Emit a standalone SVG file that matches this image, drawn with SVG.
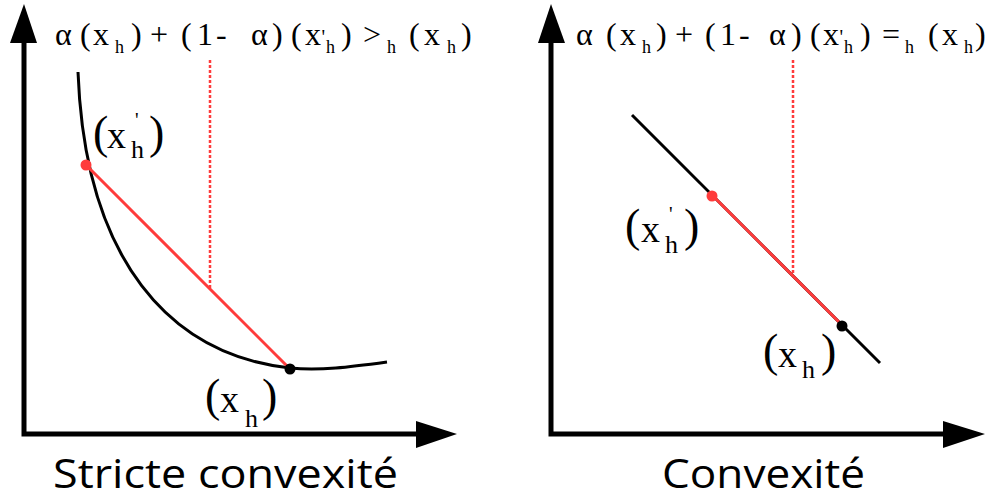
<svg xmlns="http://www.w3.org/2000/svg" width="986" height="500" viewBox="0 0 986 500">
<style>
.ax{stroke:#000;stroke-width:5;fill:none}
.ah{fill:#000}
.blk{stroke:#000;stroke-width:3;fill:none}
.red{stroke:#FF3B3B;stroke-width:3;fill:none}
.dot{stroke:#FF3B3B;stroke-width:2.5;stroke-dasharray:3 2;fill:none}
.f{font-family:"Liberation Serif","DejaVu Serif",serif;fill:#000}
.m{font-size:32px}
.s{font-size:18px}
.p{font-size:20px}
.lm{font-size:38px}
.lp{font-size:46px}
.ls{font-size:26px}
.title{font-family:"Open Sans","Liberation Sans",sans-serif;font-size:41px;fill:#000}
</style>
<rect width="986" height="500" fill="#fff"/>

<g id="left-axes">
<path class="ax" d="M24 40 V434 H418"/>
<polygon class="ah" points="24,4 10,43 37,43"/>
<polygon class="ah" points="457,434 416,421 416,448"/>
</g>
<g id="right-axes">
<path class="ax" d="M551 40 V434 H945"/>
<polygon class="ah" points="551,4 538,43 565,43"/>
<polygon class="ah" points="985,434 943,421 943,448"/>
</g>

<g id="left-plot">
<path class="blk" d="M78 72 C85 260 170 355 290 368 C320 371 350 367 387 362"/>
<line class="dot" x1="210" y1="60" x2="210" y2="289"/>
<line class="red" x1="86" y1="165" x2="290" y2="369"/>
<circle cx="86" cy="165" r="5.5" fill="#FF3B3B"/>
<circle cx="290" cy="369" r="5.5" fill="#000"/>
</g>

<g id="right-plot">
<line class="blk" x1="632" y1="115" x2="880" y2="363"/>
<line class="dot" x1="793" y1="60" x2="793" y2="275"/>
<line class="red" x1="712" y1="195" x2="842" y2="325"/>
<circle cx="712" cy="196" r="5.5" fill="#FF3B3B"/>
<circle cx="842" cy="326" r="5.5" fill="#000"/>
</g>

<g id="left-formula">
<text class="f m" y="45"><tspan x="55">α</tspan><tspan x="80">(</tspan><tspan x="93">x</tspan><tspan class="s" x="115" y="53">h</tspan><tspan x="131" y="45">)</tspan><tspan x="150">+</tspan><tspan x="181">(</tspan><tspan x="197">1</tspan><tspan x="216">-</tspan><tspan x="251">α</tspan><tspan x="272">)</tspan><tspan x="291">(</tspan><tspan x="305">x</tspan><tspan class="p" x="321.5" y="44">'</tspan><tspan class="s" x="326" y="53">h</tspan><tspan x="341" y="45">)</tspan><tspan x="363">&gt;</tspan><tspan class="s" x="387" y="53">h</tspan><tspan x="409" y="45">(</tspan><tspan x="424">x</tspan><tspan class="s" x="447" y="53">h</tspan><tspan x="461" y="45">)</tspan></text>
</g>

<g id="right-formula">
<text class="f m" y="45"><tspan x="576">α</tspan><tspan x="606">(</tspan><tspan x="620">x</tspan><tspan class="s" x="642" y="53">h</tspan><tspan x="656" y="45">)</tspan><tspan x="675">+</tspan><tspan x="705">(</tspan><tspan x="720">1</tspan><tspan x="739">-</tspan><tspan x="769">α</tspan><tspan x="791">)</tspan><tspan x="810">(</tspan><tspan x="823">x</tspan><tspan class="p" x="839.5" y="44">'</tspan><tspan class="s" x="844" y="53">h</tspan><tspan x="860" y="45">)</tspan><tspan x="882">=</tspan><tspan class="s" x="905" y="53">h</tspan><tspan x="928" y="45">(</tspan><tspan x="942">x</tspan><tspan class="s" x="964" y="53">h</tspan><tspan x="975" y="45">)</tspan></text>
</g>

<g id="label-left-xprime">
<text class="f"><tspan class="lp" x="93" y="148">(</tspan><tspan class="lm" x="107" y="148">x</tspan><tspan class="p" x="135" y="127">'</tspan><tspan class="ls" x="131" y="158">h</tspan><tspan class="lp" x="149" y="148">)</tspan></text>
</g>
<g id="label-left-x">
<text class="f"><tspan class="lp" x="205" y="411">(</tspan><tspan class="lm" x="220" y="412">x</tspan><tspan class="ls" x="245" y="427">h</tspan><tspan class="lp" x="262" y="411">)</tspan></text>
</g>
<g id="label-right-xprime">
<text class="f"><tspan class="lp" x="625" y="241">(</tspan><tspan class="lm" x="641" y="242">x</tspan><tspan class="p" x="669" y="221">'</tspan><tspan class="ls" x="665" y="253">h</tspan><tspan class="lp" x="684" y="241">)</tspan></text>
</g>
<g id="label-right-x">
<text class="f"><tspan class="lp" x="763" y="366">(</tspan><tspan class="lm" x="778" y="367">x</tspan><tspan class="ls" x="802" y="378">h</tspan><tspan class="lp" x="821" y="366">)</tspan></text>
</g>

<g id="titles">
<text class="title" x="53" y="488" textLength="345" lengthAdjust="spacingAndGlyphs">Stricte convexité</text>
<text class="title" x="662" y="488" textLength="203" lengthAdjust="spacingAndGlyphs">Convexité</text>
</g>
</svg>
